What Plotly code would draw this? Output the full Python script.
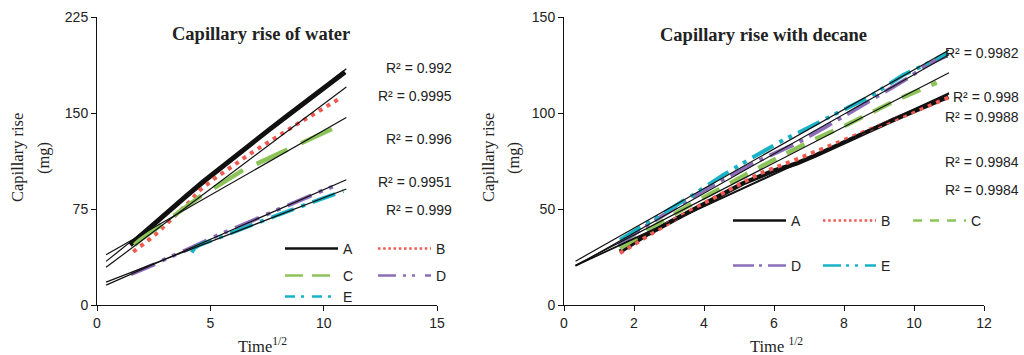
import numpy as np
import plotly.graph_objects as go

# ---------------- data ----------------
SERIES = ["A", "B", "C", "D", "E"]
COLORS = ["#111111", "#EF5A52", "#8DC45A", "#8C6DB8", "#18B3C6"]

# Capillary rise of water (x = time^1/2, y = mg)
W_A_X = [1.46, 2.0, 2.48, 3.2, 3.96, 4.7, 5.43, 6.2, 6.9, 7.6, 8.37, 9.1, 9.84, 10.4, 10.94]
W_A_Y = [47, 55.5, 63, 74, 85.5, 96.5, 107, 117.5, 127.5, 137, 147.5, 157.5, 167.5, 175, 182]
W_B_X = [1.6, 1.97, 2.34, 2.7, 3.29, 3.66, 4.1, 4.54, 5.2, 5.94, 6.67, 7.41, 8.15, 8.88, 9.62, 10.35, 10.72]
W_B_Y = [41.6, 46.3, 51.6, 57, 66.9, 72.9, 81, 89.8, 99, 108, 117.2, 125.5, 134.1, 141.9, 149.7, 157.6, 161.5]
W_C_X = [1.65, 1.9, 2.93, 3.7, 4.54, 5.5, 6.45, 7.5, 8.51, 9.5, 10.43, 10.94]
W_C_Y = [46.9, 50.8, 63.8, 74, 84.6, 95, 105.5, 114, 122.4, 130.5, 138, 141.2]
W_D_X = [1.5, 2.0, 2.5, 2.97, 3.5, 4.2, 5.28, 6.0, 6.6, 7.49, 8.3, 9.25, 9.9, 10.43]
W_D_Y = [24, 27.5, 31.5, 35.5, 39.5, 45, 54, 59.5, 64.5, 70.5, 77, 84.3, 89, 92.6]
W_E_X = [4.18, 4.3, 4.54, 5.0, 5.5, 6.0, 6.75, 7.5, 8.0, 8.66, 9.2, 9.84, 10.4, 10.87]
W_E_Y = [41, 44.5, 47, 50, 53.5, 57, 62, 67, 70.5, 75, 78.5, 82.5, 86, 89]
W_R2 = ["R² = 0.992", "R² = 0.9995", "R² = 0.996", "R² = 0.9951", "R² = 0.999"]

# Capillary rise with decane
D_A_X = [1.6, 2.4, 3.22, 4.0, 5.12, 6.0, 6.65, 7.2, 7.98, 8.7, 9.41, 10.2, 10.98]
D_A_Y = [27.8, 37, 45, 52.5, 63.4, 70, 73.8, 78, 84.2, 90.5, 96.4, 102.5, 108.5]
D_B_X = [1.6, 2.4, 3.2, 4.0, 4.8, 5.6, 6.65, 7.4, 8.2, 9.0, 9.8, 10.5, 10.98]
D_B_Y = [27, 36, 45, 53, 61, 68.5, 75.9, 81.5, 87.5, 93.5, 99.5, 104.5, 108]
D_C_X = [1.6, 2.74, 3.5, 4.27, 5.2, 6.08, 7.0, 7.98, 8.7, 9.5, 10.1, 10.65]
D_C_Y = [29.5, 42.9, 51, 59, 68, 76.4, 85, 92.9, 99.5, 106.8, 111.5, 115.8]
D_D_X = [1.55, 2.5, 3.69, 4.6, 5.6, 6.65, 7.5, 8.3, 9.12, 9.89, 10.36, 10.98]
D_D_Y = [31.2, 43, 56.4, 66, 75.5, 84.2, 93, 101.5, 110.3, 118.9, 125, 130.2]
D_E_X = [1.6, 2.84, 3.7, 4.55, 5.4, 6.27, 7.5, 8.74, 9.69, 10.3, 10.98]
D_E_Y = [33.9, 47.8, 57.5, 67.7, 77, 85.9, 97, 108.5, 119.8, 125, 131.4]
D_R2 = ["R² = 0.9982", "R² = 0.998", "R² = 0.9988", "R² = 0.9984", "R² = 0.9984"]

W_X = [W_A_X, W_B_X, W_C_X, W_D_X, W_E_X]
W_Y = [W_A_Y, W_B_Y, W_C_Y, W_D_Y, W_E_Y]
D_X = [D_A_X, D_B_X, D_C_X, D_D_X, D_E_X]
D_Y = [D_A_Y, D_B_Y, D_C_Y, D_D_Y, D_E_Y]

W_XTICKS = [0, 5, 10, 15]
W_YTICKS = [0, 75, 150, 225]
D_XTICKS = [0, 2, 4, 6, 8, 10, 12]
D_YTICKS = [0, 50, 100, 150]

# trendline (Excel-style, forecast backward) x extents
W_TREND_X = [0.4, 11.0]
D_TREND_X = [0.33, 11.0]

# ---------------- styles ----------------
W = 1024
H = 355
SANS = "Liberation Sans, Arial, sans-serif"
SERIF = "Liberation Serif, Times New Roman, serif"
TXT = "#222222"

W_WIDTH = [5, 4, 4.5, 4, 4]
W_DASH = ["solid", "4px,5px", "34px,15px", "26px,8px,4px,7px,4px,8px", "24px,8px,4px,8px"]
D_WIDTH = [4.5, 4, 4.5, 4, 4]
D_DASH = ["solid", "4px,5px", "20px,12px", "26px,7px,4px,7px", "24px,7px,4px,6px,4px,7px"]

W_LEG_DASH = ["solid", "2.5px,2.7px", "18px,9px", "18px,7px,3px,6px,3px,10px", "10px,6px,3px,8px"]
D_LEG_DASH = ["solid", "2.5px,2.7px", "9px,8px", "21px,5px,3px,6px", "18px,5px,3px,6px,3px,7px"]


def px(x):
    return x / W


def py(y):
    return 1 - y / H


fig = go.Figure()

# water data
for i, s in enumerate(SERIES):
    fig.add_trace(go.Scatter(x=W_X[i], y=W_Y[i], mode="lines", name=s, showlegend=False,
                             line=dict(color=COLORS[i], width=W_WIDTH[i], dash=W_DASH[i]),
                             xaxis="x", yaxis="y", hoverinfo="skip"))
for i, s in enumerate(SERIES):
    k, b = np.polyfit(W_X[i], W_Y[i], 1)
    tx = np.array(W_TREND_X)
    fig.add_trace(go.Scatter(x=tx, y=k * tx + b, mode="lines", showlegend=False,
                             line=dict(color="#111111", width=1.2),
                             xaxis="x", yaxis="y", hoverinfo="skip"))

# decane data
for i, s in enumerate(SERIES):
    fig.add_trace(go.Scatter(x=D_X[i], y=D_Y[i], mode="lines", name=s, showlegend=False,
                             line=dict(color=COLORS[i], width=D_WIDTH[i], dash=D_DASH[i]),
                             xaxis="x2", yaxis="y2", hoverinfo="skip"))
for i, s in enumerate(SERIES):
    k, b = np.polyfit(D_X[i], D_Y[i], 1)
    tx = np.array(D_TREND_X)
    fig.add_trace(go.Scatter(x=tx, y=k * tx + b, mode="lines", showlegend=False,
                             line=dict(color="#111111", width=1.2),
                             xaxis="x2", yaxis="y2", hoverinfo="skip"))

# legend entries (legend-styled)
W_LEG_GROUP = ["legend", "legend", "legend2", "legend2", "legend3"]
D_LEG_GROUP = ["legend4", "legend4", "legend4", "legend5", "legend5"]
for i, s in enumerate(SERIES):
    fig.add_trace(go.Scatter(x=[None], y=[None], mode="lines", name=s, legend=W_LEG_GROUP[i],
                             line=dict(color=COLORS[i], width=2.5, dash=W_LEG_DASH[i]),
                             xaxis="x", yaxis="y"))
for i, s in enumerate(SERIES):
    fig.add_trace(go.Scatter(x=[None], y=[None], mode="lines", name=s, legend=D_LEG_GROUP[i],
                             line=dict(color=COLORS[i], width=2.5, dash=D_LEG_DASH[i]),
                             xaxis="x2", yaxis="y2"))


def leg(xp, yp, ew):
    return dict(orientation="h", x=px(xp), y=py(yp), xanchor="left", yanchor="middle",
                entrywidth=ew, entrywidthmode="pixels", itemwidth=53,
                font=dict(family=SANS, size=14, color=TXT), bgcolor="rgba(0,0,0,0)",
                borderwidth=0, traceorder="normal", itemclick=False, itemdoubleclick=False)


axis_common = dict(showgrid=False, zeroline=False, showline=True, linecolor="#111111", linewidth=1,
                   ticks="outside", ticklen=5, tickwidth=1, tickcolor="#111111", automargin=False,
                   tickfont=dict(family=SANS, size=14, color=TXT), fixedrange=True)

fig.update_layout(
    width=W, height=H, margin=dict(l=0, r=0, t=0, b=0, autoexpand=False),
    paper_bgcolor="white", plot_bgcolor="white",
    xaxis=dict(domain=[px(97), px(437)], range=[0, 15], tickvals=W_XTICKS, anchor="y", **axis_common),
    yaxis=dict(domain=[py(305), py(17)], range=[0, 225], tickvals=W_YTICKS, anchor="x", **axis_common),
    xaxis2=dict(domain=[px(564), px(984)], range=[0, 12], tickvals=D_XTICKS, anchor="y2", **axis_common),
    yaxis2=dict(domain=[py(305), py(17)], range=[0, 150], tickvals=D_YTICKS, anchor="x2", **axis_common),
    legend=leg(280, 249, 25),
    legend2=leg(280, 276, 25),
    legend3=leg(280, 297, 25),
    legend4=leg(728, 221, 22),
    legend5=leg(728, 266, 22),
    showlegend=True,
)

ann = []
# titles
ann.append(dict(text="<b>Capillary rise of water</b>", x=px(261), y=py(34), font=dict(family=SERIF, size=18.5, color=TXT)))
ann.append(dict(text="<b>Capillary rise with decane</b>", x=px(763), y=py(35), font=dict(family=SERIF, size=18.5, color=TXT)))
# axis titles
YT_FONT = dict(family=SERIF, size=16.5, color=TXT)
ann.append(dict(text="Capillary rise", x=px(17), y=py(158), textangle=-90, font=YT_FONT))
ann.append(dict(text="(mg)", x=px(43), y=py(158), textangle=-90, font=YT_FONT))
ann.append(dict(text="Capillary rise", x=px(488), y=py(158), textangle=-90, font=YT_FONT))
ann.append(dict(text="(mg)", x=px(513), y=py(158), textangle=-90, font=YT_FONT))
ann.append(dict(text="Time<sup>1/2</sup>", x=px(262), y=py(345), font=YT_FONT))
ann.append(dict(text="Time <sup>1/2</sup>", x=px(776), y=py(345), font=YT_FONT))
# R² labels
W_R2_Y = [68, 96, 139, 182, 210]
D_R2_Y = [53, 97, 117, 162, 190]
for t, yy in zip(W_R2, W_R2_Y):
    ann.append(dict(text=t, x=px(454), y=py(yy), xanchor="right", font=dict(family=SANS, size=14, color=TXT)))
for t, yy in zip(D_R2, D_R2_Y):
    ann.append(dict(text=t, x=px(1021), y=py(yy), xanchor="right", font=dict(family=SANS, size=14, color=TXT)))

for a in ann:
    a.update(xref="paper", yref="paper", showarrow=False)
    a.setdefault("xanchor", "center")
    a.setdefault("yanchor", "middle")
fig.update_layout(annotations=ann)

fig.write_html("out.html", config={"displayModeBar": False},
               post_script="document.body.style.margin='0';document.body.style.overflow='hidden';")
